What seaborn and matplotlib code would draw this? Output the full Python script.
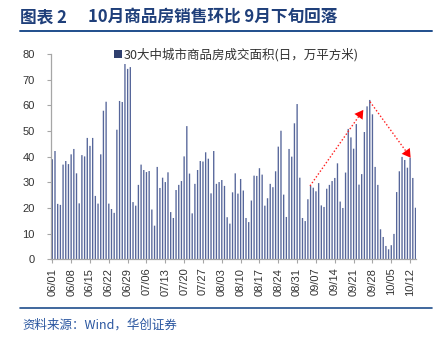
import matplotlib
matplotlib.use("Agg")
import matplotlib.pyplot as plt
from matplotlib.lines import Line2D
import seaborn as sns
import pandas as pd

# ---------------- data ----------------
dates = pd.date_range("2020-06-01", periods=136, freq="D").strftime("%m/%d").tolist()
values = [
    39.0, 42.2, 21.6, 21.2, 36.9, 38.3, 37.1, 40.9, 43.0, 33.5,
    21.8, 40.6, 40.1, 47.3, 44.2, 47.3, 24.7, 21.7, 40.9, 57.9,
    61.4, 21.7, 19.6, 18.1, 50.5, 61.7, 61.3, 76.1, 74.2, 74.9,
    22.3, 20.9, 29.0, 36.9, 34.8, 34.0, 34.4, 19.4, 13.1, 36.0,
    27.8, 31.8, 30.1, 33.9, 18.4, 16.1, 27.0, 29.0, 30.5, 40.1,
    51.9, 33.4, 17.9, 29.4, 34.8, 38.3, 38.1, 41.7, 39.2, 25.7,
    42.2, 29.4, 30.1, 30.9, 28.6, 16.4, 13.9, 26.1, 33.5, 25.6,
    31.3, 26.8, 16.1, 14.5, 22.9, 32.6, 32.5, 35.5, 33.0, 20.9,
    23.8, 29.4, 28.1, 34.3, 43.9, 50.1, 25.2, 16.5, 43.0, 40.0,
    53.0, 60.5, 31.8,
    16.1, 14.9, 23.4, 28.6, 27.9, 26.5, 29.7, 21.0, 20.4, 27.5,
    29.0, 30.5, 31.7, 37.4, 22.5, 20.0, 33.8, 50.8, 47.5, 43.1,
    52.7, 29.1, 33.2, 49.6, 59.6, 62.1, 56.5, 36.0, 29.0, 11.7,
    8.7, 5.2, 3.9, 5.5, 9.9, 26.2, 34.3, 39.9, 38.7, 35.7,
    39.6, 31.7, 20.1,
]
series_name = "30大中城市商品房成交面积(日，万平方米)"
yticks = [0, 10, 20, 30, 40, 50, 60, 70, 80]
# arrow annotations (start -> end) in data coords
arrow1 = [(95.8, 28.6), (115.6, 58.2)]
arrow2 = [(118.1, 61.4), (133.2, 39.6)]

title_left = "图表 2"
title_right = "10月商品房销售环比 9月下旬回落"
source_text = "资料来源：Wind，华创证券"

# ---------------- style ----------------
sns.set_style("white")
plt.rcParams["font.family"] = ["Liberation Sans", "Noto Sans CJK SC", "DejaVu Sans"]

W, H = 439, 347
fig = plt.figure(figsize=(W / 100, H / 100), dpi=100)
fig.patch.set_facecolor("white")

left_px, right_px, top_px, bottom_px = 51.5, 416.3, 54.0, 259.3
ax = fig.add_axes([left_px / W, 1 - bottom_px / H,
                   (right_px - left_px) / W, (bottom_px - top_px) / H])

bar_color = "#56669A"
sns.barplot(x=dates, y=values, color=bar_color, saturation=1, width=0.5,
            ax=ax, label=series_name)
for p in ax.patches:
    p.set_snap(False)
    p.set_linewidth(0)

ax.set_xlim(-0.3, 135.3)
ax.set_ylim(0, 80)
ax.set_yticks(yticks)
ax.set_xticks(range(0, len(dates), 7))
ax.set_xticklabels(dates[::7], rotation=90)
ax.set_xlabel("")
ax.set_ylabel("")

for s in ["top", "right"]:
    ax.spines[s].set_visible(False)
for s in ["left", "bottom"]:
    ax.spines[s].set_color("#A6A6A6")
    ax.spines[s].set_linewidth(0.9)

ax.tick_params(axis="y", length=3, width=0.8, color="#A6A6A6", pad=9,
               labelsize=8, labelcolor="#333333", left=True)
ax.tick_params(axis="x", length=3, width=0.8, color="#A6A6A6", pad=3,
               labelsize=8, labelcolor="#333333", bottom=True)
ax.grid(False)

# arrows
for (x0, y0), (x1, y1) in (arrow1, arrow2):
    ax.plot([x0, x1], [y0, y1], linestyle=(0, (1, 1.5)), color="#FF2020", lw=1)
    ax.annotate("", xy=(x1, y1), xytext=(x0, y0),
                arrowprops=dict(arrowstyle="-|>,head_length=0.5,head_width=0.3",
                                color="#FF0000", lw=0.01,
                                mutation_scale=12, shrinkA=0, shrinkB=0))

# legend
leg = ax.legend(loc="center left", bbox_to_anchor=(114 / W, 1 - 55 / H),
                bbox_transform=fig.transFigure, frameon=False,
                handlelength=0.6, handleheight=0.6, handletextpad=0.2,
                prop={"family": ["Noto Sans CJK SC"], "size": 9},
                labelcolor="#333333", borderaxespad=0, borderpad=0)
for h in leg.legend_handles:
    h.set_facecolor("#2F3F6E")
    h.set_edgecolor("#2F3F6E")

# title and decorations
title_color = "#1F3F7A"
fig.text(20 / W, 1 - 17 / H, title_left, fontsize=12, fontweight="bold",
         color=title_color, va="center", ha="left",
         family=["Noto Sans CJK SC"])
fig.text(88 / W, 1 - 17 / H, title_right, fontsize=12, fontweight="bold",
         color=title_color, va="center", ha="left",
         family=["Noto Sans CJK SC"])
fig.add_artist(Line2D([20 / W, 432 / W], [1 - 31 / H, 1 - 31 / H],
                      color="#1F4E8C", lw=1.4))
fig.add_artist(Line2D([20 / W, 432 / W], [1 - 308 / H, 1 - 308 / H],
                      color="#1F4E8C", lw=1.2))
fig.text(22 / W, 1 - 325 / H, source_text, fontsize=9, color="#2A56A0",
         va="center", ha="left", style="italic",
         family=["Noto Sans CJK SC", "DejaVu Sans"])

fig.savefig("out.png", dpi=100, facecolor="white")
